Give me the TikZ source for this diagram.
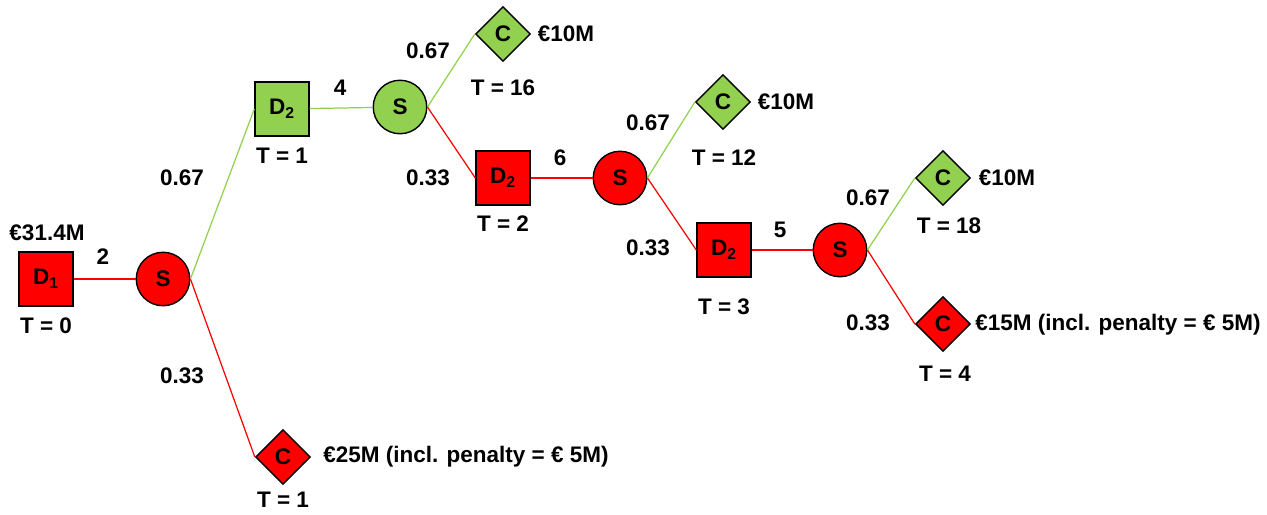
\documentclass[tikz,border=0pt]{standalone}
\usepackage{fontspec}
\setmainfont{Liberation Sans}
\usetikzlibrary{shapes.geometric}
\definecolor{treered}{HTML}{FF0000}
\definecolor{treegreen}{HTML}{92D050}
\tikzset{
  every node/.style={font=\fontsize{12.8}{14}\selectfont\bfseries},
  decision/.style={rectangle, draw, line width=0.8pt, minimum size=1.08cm, inner sep=0pt},
  chance/.style={circle, draw, line width=0.8pt, minimum size=1.07cm, inner sep=0pt},
  final/.style={diamond, draw, line width=0.8pt, minimum width=1.1cm, minimum height=1.1cm, inner sep=0pt},
  redline/.style={draw=treered, line width=0.7pt},
  greenline/.style={draw=treegreen, line width=0.7pt}
}
\begin{document}
\begin{tikzpicture}[x=0.02cm, y=-0.02cm]
        \useasboundingbox (0,0) rectangle (1267,514);

        \node[decision, fill=treered] (d1) at (46, 279) {D\textsubscript{1}};
        \node[chance, fill=treered] (s1) at (163, 279) {S};
        \node[decision, fill=treegreen] (d2a) at (282, 109) {D\textsubscript{2}};
        \node[chance, fill=treegreen] (s2) at (400, 107) {S};
        \node[final, fill=treegreen] (c1) at (503, 34) {C};
        \node[decision, fill=treered] (d2b) at (503, 178) {D\textsubscript{2}};
        \node[chance, fill=treered] (s3) at (620, 178) {S};
        \node[final, fill=treegreen] (c2) at (723, 102) {C};
        \node[decision, fill=treered] (d2c) at (724, 250) {D\textsubscript{2}};
        \node[chance, fill=treered] (s4) at (840, 250) {S};
        \node[final, fill=treegreen] (c3) at (943, 178) {C};
        \node[final, fill=treered] (c4) at (943, 324) {C};
        \node[final, fill=treered] (c5) at (283, 457) {C};

        \draw [redline] (d1) -- (s1);
        \draw [greenline] (s1.east) -- (d2a.west);
        \draw [redline] (s1.east) -- (c5.west);
        \draw [greenline] (d2a) -- (s2);
        \draw [greenline] (s2.east) -- (c1.west);
        \draw [redline] (s2.east) -- (d2b.west);
        \draw [redline] (d2b) -- (s3);
        \draw [greenline] (s3.east) -- (c2.west);
        \draw [redline] (s3.east) -- (d2c.west);
        \draw [redline] (d2c) -- (s4);
        \draw [greenline] (s4.east) -- (c3.west);
        \draw [redline] (s4.east) -- (c4.west);

        % values and times
        \node (v1) at (47, 233) {€31.4M};
        \node (t1) at (46, 326) {T = 0};
        \node (t2) at (282, 156) {T = 1};
        \node (v2) at (566, 34) {€10M};
        \node (t3) at (503, 88) {T = 16};
        \node (t4) at (503, 224) {T = 2};
        \node (v3) at (786, 102) {€10M};
        \node (t5) at (724, 158) {T = 12};
        \node (t6) at (724, 307) {T = 3};
        \node (v4) at (1007, 178) {€10M};
        \node (t7) at (949, 226) {T = 18};
        \node[anchor=west, inner sep=0pt] (v5) at (975, 325) {€15M (incl. penalty = € 5M)};
        \node (t8) at (945, 374) {T = 4};
        \node[anchor=west, inner sep=0pt] (v6) at (323, 457) {€25M (incl. penalty = € 5M)};
        \node (t9) at (283, 500) {T = 1};

        % branch labels
        \node (b1) at (103, 257) {2};
        \node (p1) at (182, 178) {0.67};
        \node (p2) at (182, 376) {0.33};
        \node (b2) at (340, 88) {4};
        \node (p3) at (428, 51) {0.67};
        \node (p4) at (428, 178) {0.33};
        \node (b3) at (560, 158) {6};
        \node (p5) at (648, 123) {0.67};
        \node (p6) at (648, 248) {0.33};
        \node (b4) at (780, 230) {5};
        \node (p7) at (868, 198) {0.67};
        \node (p8) at (868, 323) {0.33};
\end{tikzpicture}
\end{document}
